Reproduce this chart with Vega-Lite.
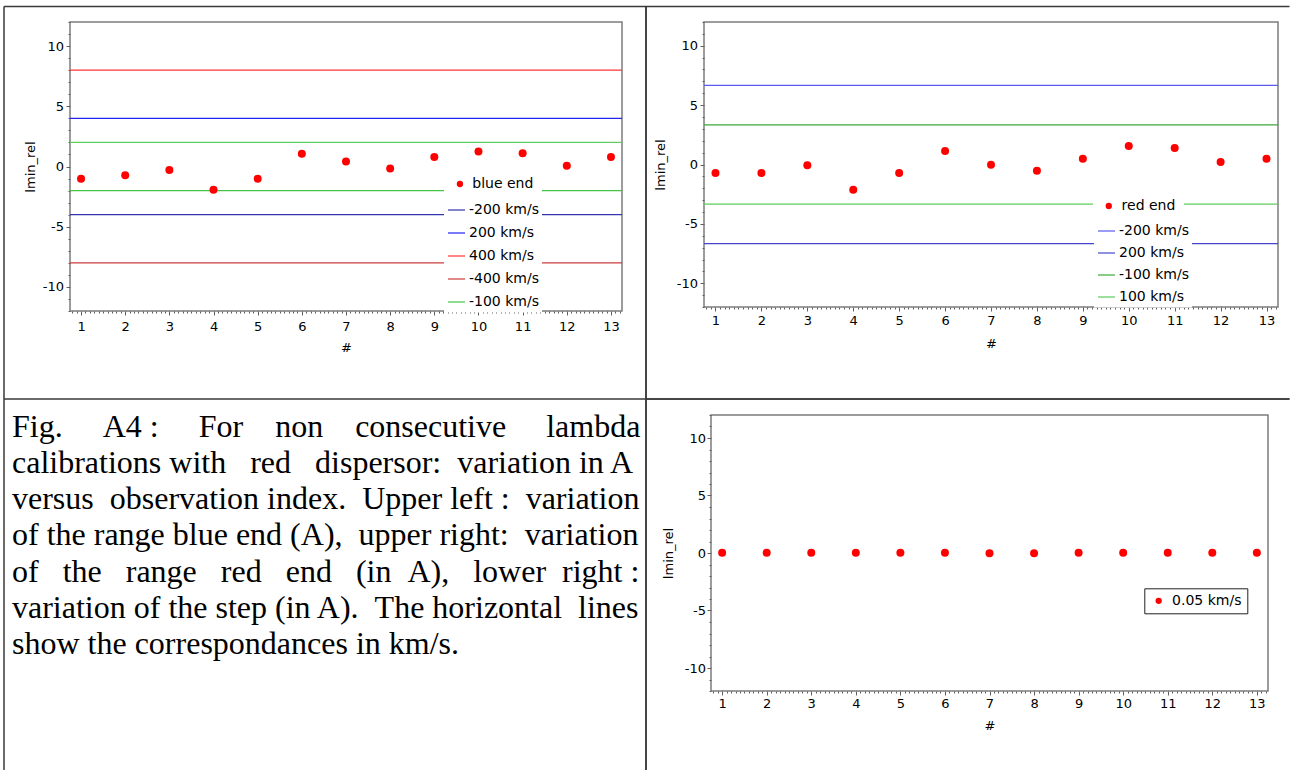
{
  "$schema": "https://vega.github.io/schema/vega-lite/v6.json",
  "background": "white",
  "autosize": {"type": "pad"},
  "padding": {"left": 2, "top": 4, "right": 0, "bottom": 0},
  "spacing": -4,
  "resolve": {"scale": {"fill": "independent", "stroke": "independent"}},
  "datasets": {
    "blue_end": [
      {"series": "blue end", "idx": 1, "value": -1.02},
      {"series": "blue end", "idx": 2, "value": -0.72},
      {"series": "blue end", "idx": 3, "value": -0.30},
      {"series": "blue end", "idx": 4, "value": -1.94},
      {"series": "blue end", "idx": 5, "value": -1.02},
      {"series": "blue end", "idx": 6, "value": 1.05},
      {"series": "blue end", "idx": 7, "value": 0.42},
      {"series": "blue end", "idx": 8, "value": -0.17},
      {"series": "blue end", "idx": 9, "value": 0.78},
      {"series": "blue end", "idx": 10, "value": 1.25},
      {"series": "blue end", "idx": 11, "value": 1.11},
      {"series": "blue end", "idx": 12, "value": 0.06},
      {"series": "blue end", "idx": 13, "value": 0.78}
    ],
    "red_end": [
      {"series": "red end", "idx": 1, "value": -0.72},
      {"series": "red end", "idx": 2, "value": -0.72},
      {"series": "red end", "idx": 3, "value": -0.07},
      {"series": "red end", "idx": 4, "value": -2.12},
      {"series": "red end", "idx": 5, "value": -0.72},
      {"series": "red end", "idx": 6, "value": 1.14},
      {"series": "red end", "idx": 7, "value": -0.02},
      {"series": "red end", "idx": 8, "value": -0.52},
      {"series": "red end", "idx": 9, "value": 0.49},
      {"series": "red end", "idx": 10, "value": 1.56},
      {"series": "red end", "idx": 11, "value": 1.39},
      {"series": "red end", "idx": 12, "value": 0.21},
      {"series": "red end", "idx": 13, "value": 0.49}
    ],
    "step": [
      {"series": "0.05 km/s", "idx": 1, "value": 0.02},
      {"series": "0.05 km/s", "idx": 2, "value": 0.02},
      {"series": "0.05 km/s", "idx": 3, "value": 0.02},
      {"series": "0.05 km/s", "idx": 4, "value": 0.02},
      {"series": "0.05 km/s", "idx": 5, "value": 0.02},
      {"series": "0.05 km/s", "idx": 6, "value": 0.02},
      {"series": "0.05 km/s", "idx": 7, "value": -0.03},
      {"series": "0.05 km/s", "idx": 8, "value": -0.03},
      {"series": "0.05 km/s", "idx": 9, "value": 0.02},
      {"series": "0.05 km/s", "idx": 10, "value": 0.02},
      {"series": "0.05 km/s", "idx": 11, "value": 0.02},
      {"series": "0.05 km/s", "idx": 12, "value": 0.02},
      {"series": "0.05 km/s", "idx": 13, "value": 0.02}
    ],
    "blue_lines": [
      {"series": "-200 km/s", "value": -4},
      {"series": "200 km/s", "value": 4},
      {"series": "400 km/s", "value": 8},
      {"series": "-400 km/s", "value": -8},
      {"series": "-100 km/s", "value": -2},
      {"series": "100 km/s", "value": 2}
    ],
    "red_lines": [
      {"series": "-200 km/s", "value": 6.67},
      {"series": "200 km/s", "value": -6.67},
      {"series": "-100 km/s", "value": 3.33},
      {"series": "100 km/s", "value": -3.33}
    ],
    "caption": [
      {"line": 0, "text": "Fig.\u00a0\u00a0\u00a0\u00a0\u00a0A4 :\u00a0\u00a0\u00a0\u00a0\u00a0For\u00a0\u00a0\u00a0\u00a0non\u00a0\u00a0\u00a0\u00a0consecutive\u00a0\u00a0\u00a0\u00a0\u00a0lambda"},
      {"line": 1, "text": "calibrations with\u00a0\u00a0\u00a0red\u00a0\u00a0\u00a0dispersor:\u00a0\u00a0variation in A"},
      {"line": 2, "text": "versus\u00a0\u00a0observation index.\u00a0\u00a0Upper left :\u00a0\u00a0variation"},
      {"line": 3, "text": "of the range blue end (A),\u00a0\u00a0upper right:\u00a0\u00a0variation"},
      {"line": 4, "text": "of\u00a0\u00a0\u00a0the\u00a0\u00a0\u00a0range\u00a0\u00a0\u00a0red\u00a0\u00a0\u00a0end\u00a0\u00a0\u00a0(in\u00a0\u00a0A),\u00a0\u00a0\u00a0lower\u00a0\u00a0right :"},
      {"line": 5, "text": "variation of the step (in A).\u00a0\u00a0The horizontal\u00a0\u00a0lines"},
      {"line": 6, "text": "show the correspondances in km/s."}
    ]
  },
  "vconcat": [
    {
      "spacing": -4,
      "resolve": {"scale": {"fill": "independent", "stroke": "independent"}},
      "hconcat": [
        {
          "width": 552,
          "height": 289,
          "layer": [
            {
              "data": {"values": [{}]},
              "mark": {"type": "rule", "clip": false, "color": "#3a3a3a", "strokeWidth": 1.5},
              "encoding": {
                "x": {"datum": -0.7446, "type": "quantitative", "scale": {"domain": [0.75, 13.25], "nice": false, "zero": false}},
                "x2": {"datum": 13.7935},
                "y": {"datum": 13.287, "type": "quantitative", "scale": {"domain": [-12, 12], "nice": false, "zero": false}}
              }
            },
            {
              "data": {"values": [{}]},
              "mark": {"type": "rule", "clip": false, "color": "#3a3a3a", "strokeWidth": 1.5},
              "encoding": {
                "x": {"datum": -0.7446, "type": "quantitative", "scale": {"domain": [0.75, 13.25], "nice": false, "zero": false}},
                "x2": {"datum": 13.7935},
                "y": {"datum": -19.308, "type": "quantitative", "scale": {"domain": [-12, 12], "nice": false, "zero": false}}
              }
            },
            {
              "data": {"values": [{}]},
              "mark": {"type": "rule", "clip": false, "color": "#3a3a3a", "strokeWidth": 1.5},
              "encoding": {
                "x": {"datum": -0.7446, "type": "quantitative", "scale": {"domain": [0.75, 13.25], "nice": false, "zero": false}},
                "y": {"datum": 13.287, "type": "quantitative", "scale": {"domain": [-12, 12], "nice": false, "zero": false}},
                "y2": {"datum": -19.308}
              }
            },
            {
              "data": {"values": [{}]},
              "mark": {"type": "rule", "clip": false, "color": "#3a3a3a", "strokeWidth": 1.5},
              "encoding": {
                "x": {"datum": 13.7935, "type": "quantitative", "scale": {"domain": [0.75, 13.25], "nice": false, "zero": false}},
                "y": {"datum": 13.287, "type": "quantitative", "scale": {"domain": [-12, 12], "nice": false, "zero": false}},
                "y2": {"datum": -19.308}
              }
            },
            {
              "data": {"name": "blue_lines"},
              "mark": {"type": "rule", "strokeWidth": 1.2},
              "encoding": {
                "y": {"field": "value", "type": "quantitative", "scale": {"domain": [-12, 12], "nice": false, "zero": false}},
                "stroke": {
                  "field": "series", "type": "nominal",
                  "scale": {
                    "domain": ["-200 km/s", "200 km/s", "400 km/s", "-400 km/s", "-100 km/s", "100 km/s"],
                    "range": ["#3535b0", "#2222f0", "#ff3535", "#cc3c3c", "#44c444", "#60cf60"]
                  },
                  "legend": {
                    "orient": "none", "legendX": 374, "legendY": 175.5, "title": null,
                    "values": ["-200 km/s", "200 km/s", "400 km/s", "-400 km/s", "-100 km/s"],
                    "symbolType": "stroke", "symbolSize": 289, "symbolStrokeWidth": 1.2,
                    "padding": 3, "rowPadding": 6, "labelOffset": 3, "fillColor": "white"
                  }
                }
              }
            },
            {
              "data": {"name": "blue_end"},
              "mark": {"type": "point", "filled": true, "size": 64, "opacity": 1},
              "encoding": {
                "x": {
                  "field": "idx", "type": "quantitative",
                  "scale": {"domain": [0.75, 13.25], "nice": false, "zero": false},
                  "axis": {
                    "title": "#", "titlePadding": 8.8, "labelPadding": 5, "tickCount": 1000,
                    "labelOverlap": false, "labelBound": false, "labelFlush": false,
                    "values": [0.8,0.9,1,1.1,1.2,1.3,1.4,1.5,1.6,1.7,1.8,1.9,2,2.1,2.2,2.3,2.4,2.5,2.6,2.7,2.8,2.9,3,3.1,3.2,3.3,3.4,3.5,3.6,3.7,3.8,3.9,4,4.1,4.2,4.3,4.4,4.5,4.6,4.7,4.8,4.9,5,5.1,5.2,5.3,5.4,5.5,5.6,5.7,5.8,5.9,6,6.1,6.2,6.3,6.4,6.5,6.6,6.7,6.8,6.9,7,7.1,7.2,7.3,7.4,7.5,7.6,7.7,7.8,7.9,8,8.1,8.2,8.3,8.4,8.5,8.6,8.7,8.8,8.9,9,9.1,9.2,9.3,9.4,9.5,9.6,9.7,9.8,9.9,10,10.1,10.2,10.3,10.4,10.5,10.6,10.7,10.8,10.9,11,11.1,11.2,11.3,11.4,11.5,11.6,11.7,11.8,11.9,12,12.1,12.2,12.3,12.4,12.5,12.6,12.7,12.8,12.9,13,13.1,13.2],
                    "labelExpr": "datum.value % 1 === 0 ? '' + datum.value : ''",
                    "tickSize": {"condition": {"test": "datum.value % 1 === 0", "value": 4}, "value": 2}
                  }
                },
                "y": {
                  "field": "value", "type": "quantitative",
                  "scale": {"domain": [-12, 12], "nice": false, "zero": false},
                  "axis": {
                    "title": "lmin_rel", "titlePadding": 5, "labelPadding": 2.5, "tickCount": 1000,
                    "labelOverlap": false, "labelBound": false, "labelFlush": false,
                    "values": [-12,-11,-10,-9,-8,-7,-6,-5,-4,-3,-2,-1,0,1,2,3,4,5,6,7,8,9,10,11,12],
                    "labelExpr": "datum.value % 5 === 0 ? '' + datum.value : ''",
                    "tickSize": {"condition": {"test": "datum.value % 5 === 0", "value": 4}, "value": 2}
                  }
                },
                "fill": {
                  "field": "series", "type": "nominal",
                  "scale": {"domain": ["blue end"], "range": ["#ff0000"]},
                  "legend": {
                    "orient": "none", "legendX": 374, "legendY": 147, "title": null,
                    "symbolType": "circle", "symbolSize": 40, "symbolStrokeWidth": 0,
                    "padding": 8, "symbolOffset": 0.92, "labelOffset": 5.34, "fillColor": "white"
                  }
                }
              }
            }
          ]
        },
        {
          "width": 574,
          "height": 285,
          "layer": [
            {
              "data": {"values": [{}]},
              "mark": {"type": "rule", "clip": false, "color": "#3a3a3a", "strokeWidth": 1.5},
              "encoding": {
                "x": {"datum": -0.5131, "type": "quantitative", "scale": {"domain": [0.75, 13.25], "nice": false, "zero": false}},
                "x2": {"datum": 13.5004},
                "y": {"datum": 13.3053, "type": "quantitative", "scale": {"domain": [-12, 12], "nice": false, "zero": false}}
              }
            },
            {
              "data": {"values": [{}]},
              "mark": {"type": "rule", "clip": false, "color": "#3a3a3a", "strokeWidth": 1.5},
              "encoding": {
                "x": {"datum": -0.5131, "type": "quantitative", "scale": {"domain": [0.75, 13.25], "nice": false, "zero": false}},
                "x2": {"datum": 13.5004},
                "y": {"datum": -19.747, "type": "quantitative", "scale": {"domain": [-12, 12], "nice": false, "zero": false}}
              }
            },
            {
              "data": {"values": [{}]},
              "mark": {"type": "rule", "clip": false, "color": "#3a3a3a", "strokeWidth": 1.5},
              "encoding": {
                "x": {"datum": -0.5131, "type": "quantitative", "scale": {"domain": [0.75, 13.25], "nice": false, "zero": false}},
                "y": {"datum": 13.3053, "type": "quantitative", "scale": {"domain": [-12, 12], "nice": false, "zero": false}},
                "y2": {"datum": -19.747}
              }
            },
            {
              "data": {"name": "red_lines"},
              "mark": {"type": "rule", "strokeWidth": 1.2},
              "encoding": {
                "y": {"field": "value", "type": "quantitative", "scale": {"domain": [-12, 12], "nice": false, "zero": false}},
                "stroke": {
                  "field": "series", "type": "nominal",
                  "scale": {
                    "domain": ["-200 km/s", "200 km/s", "-100 km/s", "100 km/s"],
                    "range": ["#5a5aee", "#4646cc", "#3aaa3a", "#5ccc5c"]
                  },
                  "legend": {
                    "orient": "none", "legendX": 390, "legendY": 196.5, "title": null,
                    "symbolType": "stroke", "symbolSize": 289, "symbolStrokeWidth": 1.2,
                    "padding": 3, "rowPadding": 5, "labelOffset": 3, "fillColor": "white"
                  }
                }
              }
            },
            {
              "data": {"name": "red_end"},
              "mark": {"type": "point", "filled": true, "size": 64, "opacity": 1},
              "encoding": {
                "x": {
                  "field": "idx", "type": "quantitative",
                  "scale": {"domain": [0.75, 13.25], "nice": false, "zero": false},
                  "axis": {
                    "title": "#", "titlePadding": 10.3, "labelPadding": 3, "tickCount": 1000,
                    "labelOverlap": false, "labelBound": false, "labelFlush": false,
                    "values": [0.8,0.9,1,1.1,1.2,1.3,1.4,1.5,1.6,1.7,1.8,1.9,2,2.1,2.2,2.3,2.4,2.5,2.6,2.7,2.8,2.9,3,3.1,3.2,3.3,3.4,3.5,3.6,3.7,3.8,3.9,4,4.1,4.2,4.3,4.4,4.5,4.6,4.7,4.8,4.9,5,5.1,5.2,5.3,5.4,5.5,5.6,5.7,5.8,5.9,6,6.1,6.2,6.3,6.4,6.5,6.6,6.7,6.8,6.9,7,7.1,7.2,7.3,7.4,7.5,7.6,7.7,7.8,7.9,8,8.1,8.2,8.3,8.4,8.5,8.6,8.7,8.8,8.9,9,9.1,9.2,9.3,9.4,9.5,9.6,9.7,9.8,9.9,10,10.1,10.2,10.3,10.4,10.5,10.6,10.7,10.8,10.9,11,11.1,11.2,11.3,11.4,11.5,11.6,11.7,11.8,11.9,12,12.1,12.2,12.3,12.4,12.5,12.6,12.7,12.8,12.9,13,13.1,13.2],
                    "labelExpr": "datum.value % 1 === 0 ? '' + datum.value : ''",
                    "tickSize": {"condition": {"test": "datum.value % 1 === 0", "value": 4}, "value": 2}
                  }
                },
                "y": {
                  "field": "value", "type": "quantitative",
                  "scale": {"domain": [-12, 12], "nice": false, "zero": false},
                  "axis": {
                    "title": "lmin_rel", "titlePadding": 9, "labelPadding": 2.5, "tickCount": 1000,
                    "labelOverlap": false, "labelBound": false, "labelFlush": false,
                    "values": [-12,-11,-10,-9,-8,-7,-6,-5,-4,-3,-2,-1,0,1,2,3,4,5,6,7,8,9,10,11,12],
                    "labelExpr": "datum.value % 5 === 0 ? '' + datum.value : ''",
                    "tickSize": {"condition": {"test": "datum.value % 5 === 0", "value": 4}, "value": 2}
                  }
                },
                "fill": {
                  "field": "series", "type": "nominal",
                  "scale": {"domain": ["red end"], "range": ["#ff0000"]},
                  "legend": {
                    "orient": "none", "legendX": 389, "legendY": 169, "title": null,
                    "symbolType": "circle", "symbolSize": 40, "symbolStrokeWidth": 0,
                    "padding": 8, "symbolOffset": 0.77, "labelOffset": 5.84, "fillColor": "white"
                  }
                }
              }
            }
          ]
        }
      ]
    },
    {
      "spacing": -3,
      "resolve": {"scale": {"fill": "independent", "stroke": "independent"}},
      "hconcat": [
        {
          "width": 560,
          "height": 276,
          "view": {"stroke": null},
          "layer": [
            {
              "data": {"values": [{}]},
              "mark": {"type": "rule", "clip": false, "color": "#3a3a3a", "strokeWidth": 1.5},
              "encoding": {
                "x": {"datum": 0, "type": "quantitative", "scale": {"domain": [0.1028, 0.9751], "nice": false, "zero": false}, "axis": null},
                "y": {"datum": -1.04, "type": "quantitative", "scale": {"domain": [-0.5986, 7.0152], "reverse": true, "nice": false, "zero": false}, "axis": null},
                "y2": {"datum": 9.1945}
              }
            },
            {
              "data": {"values": [{}]},
              "mark": {"type": "rule", "clip": false, "color": "#3a3a3a", "strokeWidth": 1.5},
              "encoding": {
                "x": {"datum": 1, "type": "quantitative", "scale": {"domain": [0.1028, 0.9751], "nice": false, "zero": false}, "axis": null},
                "y": {"datum": -1.04, "type": "quantitative", "scale": {"domain": [-0.5986, 7.0152], "reverse": true, "nice": false, "zero": false}, "axis": null},
                "y2": {"datum": 9.1945}
              }
            },
            {
              "data": {"name": "caption"},
              "mark": {"type": "text", "align": "left", "baseline": "alphabetic", "font": "Liberation Serif", "fontSize": 32, "color": "#000000"},
              "encoding": {
                "x": {"datum": 0.01246, "type": "quantitative", "scale": {"domain": [0.1028, 0.9751], "nice": false, "zero": false}, "axis": null},
                "y": {"field": "line", "type": "quantitative", "scale": {"domain": [-0.5986, 7.0152], "reverse": true, "nice": false, "zero": false}, "axis": null},
                "text": {"field": "text", "type": "nominal"}
              }
            }
          ]
        },
        {
          "width": 557,
          "height": 276,
          "layer": [
            {
              "data": {"values": [{}]},
              "mark": {"type": "rule", "clip": false, "color": "#3a3a3a", "strokeWidth": 1.5},
              "encoding": {
                "x": {"datum": -0.7087, "type": "quantitative", "scale": {"domain": [0.75, 13.25], "nice": false, "zero": false}},
                "y": {"datum": 13.3913, "type": "quantitative", "scale": {"domain": [-12, 12], "nice": false, "zero": false}},
                "y2": {"datum": -18.8696}
              }
            },
            {
              "data": {"values": [{}]},
              "mark": {"type": "rule", "clip": false, "color": "#3a3a3a", "strokeWidth": 1.5},
              "encoding": {
                "x": {"datum": -0.7087, "type": "quantitative", "scale": {"domain": [0.75, 13.25], "nice": false, "zero": false}},
                "x2": {"datum": 13.7325},
                "y": {"datum": 13.3913, "type": "quantitative", "scale": {"domain": [-12, 12], "nice": false, "zero": false}}
              }
            },
            {
              "data": {"name": "step"},
              "mark": {"type": "point", "filled": true, "size": 64, "opacity": 1},
              "encoding": {
                "x": {
                  "field": "idx", "type": "quantitative",
                  "scale": {"domain": [0.75, 13.25], "nice": false, "zero": false},
                  "axis": {
                    "title": "#", "titlePadding": 8.5, "labelPadding": 2.5, "tickCount": 1000,
                    "labelOverlap": false, "labelBound": false, "labelFlush": false,
                    "values": [0.8,0.9,1,1.1,1.2,1.3,1.4,1.5,1.6,1.7,1.8,1.9,2,2.1,2.2,2.3,2.4,2.5,2.6,2.7,2.8,2.9,3,3.1,3.2,3.3,3.4,3.5,3.6,3.7,3.8,3.9,4,4.1,4.2,4.3,4.4,4.5,4.6,4.7,4.8,4.9,5,5.1,5.2,5.3,5.4,5.5,5.6,5.7,5.8,5.9,6,6.1,6.2,6.3,6.4,6.5,6.6,6.7,6.8,6.9,7,7.1,7.2,7.3,7.4,7.5,7.6,7.7,7.8,7.9,8,8.1,8.2,8.3,8.4,8.5,8.6,8.7,8.8,8.9,9,9.1,9.2,9.3,9.4,9.5,9.6,9.7,9.8,9.9,10,10.1,10.2,10.3,10.4,10.5,10.6,10.7,10.8,10.9,11,11.1,11.2,11.3,11.4,11.5,11.6,11.7,11.8,11.9,12,12.1,12.2,12.3,12.4,12.5,12.6,12.7,12.8,12.9,13,13.1,13.2],
                    "labelExpr": "datum.value % 1 === 0 ? '' + datum.value : ''",
                    "tickSize": {"condition": {"test": "datum.value % 1 === 0", "value": 4}, "value": 2}
                  }
                },
                "y": {
                  "field": "value", "type": "quantitative",
                  "scale": {"domain": [-12, 12], "nice": false, "zero": false},
                  "axis": {
                    "title": "lmin_rel", "titlePadding": 8.3, "labelPadding": 1.5, "tickCount": 1000,
                    "labelOverlap": false, "labelBound": false, "labelFlush": false,
                    "values": [-12,-11,-10,-9,-8,-7,-6,-5,-4,-3,-2,-1,0,1,2,3,4,5,6,7,8,9,10,11,12],
                    "labelExpr": "datum.value % 5 === 0 ? '' + datum.value : ''",
                    "tickSize": {"condition": {"test": "datum.value % 5 === 0", "value": 4}, "value": 2}
                  }
                },
                "fill": {
                  "field": "series", "type": "nominal",
                  "scale": {"domain": ["0.05 km/s"], "range": ["#ff0000"]},
                  "legend": {
                    "orient": "none", "legendX": 433.3, "legendY": 173.3, "title": null,
                    "symbolType": "circle", "symbolSize": 40, "symbolStrokeWidth": 0,
                    "padding": 5.5, "symbolOffset": 1.87, "labelOffset": 6.44,
                    "fillColor": "white", "strokeColor": "#222222"
                  }
                }
              }
            }
          ]
        }
      ]
    }
  ],
  "config": {
    "font": "DejaVu Sans",
    "view": {"stroke": "#7c7c7c", "strokeWidth": 1.5},
    "axis": {
      "grid": false, "domain": false,
      "labelFont": "DejaVu Sans", "labelFontSize": 13, "labelColor": "#000000",
      "titleFont": "DejaVu Sans", "titleFontSize": 13, "titleFontWeight": "normal", "titleColor": "#000000",
      "tickColor": "#606060", "tickWidth": 1,
      "labelOverlap": false, "labelBound": false, "labelFlush": false
    },
    "legend": {"labelFont": "DejaVu Sans", "labelFontSize": 14, "labelColor": "#000000"}
  }
}
